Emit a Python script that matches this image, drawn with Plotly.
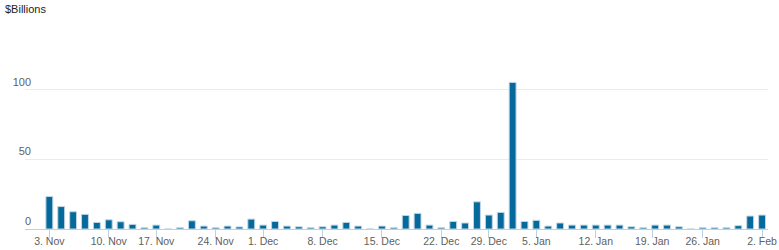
import datetime as dt
import plotly.graph_objects as go

# ---- data ----
dates = [
    "2014-11-03", "2014-11-04", "2014-11-05", "2014-11-06", "2014-11-07",
    "2014-11-10", "2014-11-12", "2014-11-13", "2014-11-14",
    "2014-11-17", "2014-11-18", "2014-11-19", "2014-11-20", "2014-11-21",
    "2014-11-24", "2014-11-25", "2014-11-26", "2014-11-28",
    "2014-12-01", "2014-12-02", "2014-12-03", "2014-12-04", "2014-12-05",
    "2014-12-08", "2014-12-09", "2014-12-10", "2014-12-11", "2014-12-12",
    "2014-12-15", "2014-12-16", "2014-12-17", "2014-12-18", "2014-12-19",
    "2014-12-22", "2014-12-23", "2014-12-24", "2014-12-26",
    "2014-12-29", "2014-12-30", "2014-12-31", "2015-01-02",
    "2015-01-05", "2015-01-06", "2015-01-07", "2015-01-08", "2015-01-09",
    "2015-01-12", "2015-01-13", "2015-01-14", "2015-01-15", "2015-01-16",
    "2015-01-20", "2015-01-21", "2015-01-22", "2015-01-23",
    "2015-01-26", "2015-01-27", "2015-01-28", "2015-01-29", "2015-01-30",
    "2015-02-02",
]
values = [
    23.3, 16.1, 12.4, 10.5, 4.7,
    6.6, 5.2, 3.3, 0.9,
    2.8, 0.0, 0.9, 5.9, 2.1,
    0.9, 2.1, 1.5, 7.1,
    2.8, 5.4, 2.1, 1.6, 0.9,
    1.6, 2.8, 4.7, 2.1, 0.0,
    2.1, 0.9, 9.7, 11.2, 2.8,
    0.9, 5.4, 4.3, 19.5,
    10.0, 11.9, 105.2, 5.4,
    6.2, 2.1, 4.3, 2.8, 2.8,
    2.8, 2.8, 2.8, 1.6, 0.9,
    2.8, 2.8, 1.6, 0.0,
    0.9, 0.9, 0.9, 2.4, 9.3,
    10.0,
]
tick_dates = [
    "2014-11-03", "2014-11-10", "2014-11-17", "2014-11-24", "2014-12-01",
    "2014-12-08", "2014-12-15", "2014-12-22", "2014-12-29", "2015-01-05",
    "2015-01-12", "2015-01-19", "2015-01-26", "2015-02-02",
]
tick_labels = [
    "3. Nov", "10. Nov", "17. Nov", "24. Nov", "1. Dec", "8. Dec", "15. Dec",
    "22. Dec", "29. Dec", "5. Jan", "12. Jan", "19. Jan", "26. Jan", "2. Feb",
]
y_ticks = [0, 50, 100, 150]
y_labels = ["0", "50", "100", ""]

# ordinal (trading-day) positions for ticks, interpolating for non-trading days
d_objs = [dt.date.fromisoformat(d) for d in dates]


def ordinal_pos(dstr):
    d = dt.date.fromisoformat(dstr)
    if d in d_objs:
        return d_objs.index(d)
    for i in range(len(d_objs) - 1):
        if d_objs[i] < d < d_objs[i + 1]:
            frac = (d - d_objs[i]).days / (d_objs[i + 1] - d_objs[i]).days
            return i + frac
    return None


tick_pos = [ordinal_pos(t) for t in tick_dates]

FONT = "Arial, Liberation Sans, sans-serif"

fig = go.Figure(
    go.Bar(
        x=dates,
        y=values,
        marker=dict(color="#05699B", line=dict(color="#BFD6E6", width=1)),
        hoverinfo="x+y",
    )
)

fig.update_layout(
    template="none",
    width=779,
    height=250,
    margin=dict(l=25, r=11, t=20, b=21, autoexpand=False),
    paper_bgcolor="white",
    plot_bgcolor="white",
    showlegend=False,
    bargap=0.42,
    font=dict(family=FONT, size=11, color="#666666"),
    xaxis=dict(
        type="category",
        automargin=False,
        range=[-2.05, 60.5],
        tickmode="array",
        tickvals=tick_pos,
        ticktext=tick_labels,
        showgrid=False,
        showline=True,
        linecolor="#C0D0E0",
        linewidth=1,
        ticks="outside",
        ticklen=8,
        tickcolor="#C0D0E0",
        ticklabelstandoff=-6,
        tickfont=dict(family=FONT, size=10.5, color="#606060"),
        fixedrange=True,
    ),
    yaxis=dict(
        automargin=False,
        range=[0, 150],
        tickmode="array",
        tickvals=y_ticks,
        ticktext=y_labels,
        showgrid=True,
        gridcolor="#EBEBEB",
        gridwidth=1,
        zeroline=False,
        showline=False,
        ticks="",
        ticklabelposition="outside top",
        ticklabelstandoff=-7,
        tickfont=dict(family=FONT, size=11, color="#606060"),
        fixedrange=True,
    ),
    annotations=[
        dict(
            text="$Billions",
            xref="paper",
            yref="paper",
            x=-22.5 / 743,
            y=1 + 11 / 209,
            xanchor="left",
            yanchor="middle",
            showarrow=False,
            font=dict(family=FONT, size=11, color="#222222"),
        )
    ],
)

fig.write_html("out.html")
